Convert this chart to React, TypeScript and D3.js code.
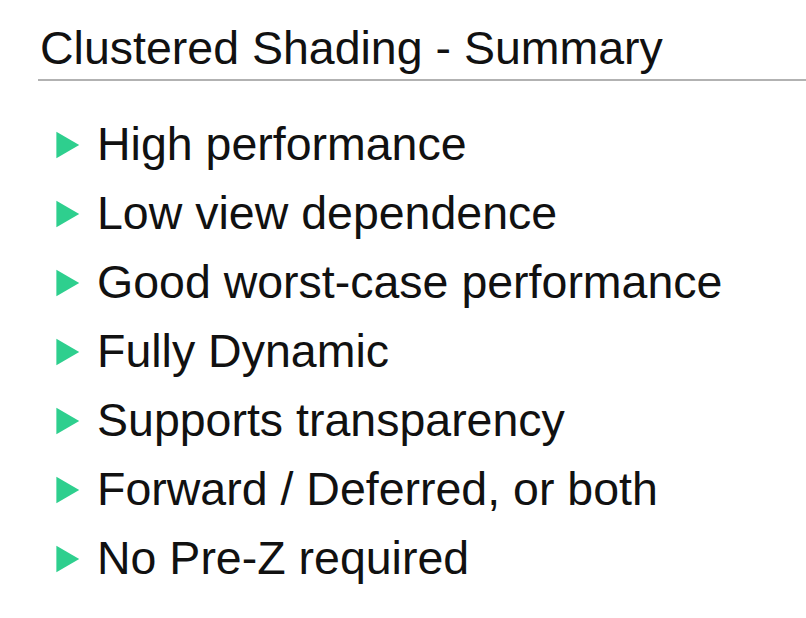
import React from 'react';
import * as d3 from 'd3';

const title = 'Clustered Shading - Summary';
const bullets = [
  'High performance',
  'Low view dependence',
  'Good worst-case performance',
  'Fully Dynamic',
  'Supports transparency',
  'Forward / Deferred, or both',
  'No Pre-Z required',
];

const W = 806;
const H = 618;

export default function App() {
  const y = d3.scalePoint<number>().domain(d3.range(bullets.length)).range([160, 574]);
  const tri = d3.symbol().type(d3.symbolTriangle).size(300);
  return (
    <svg width={W} height={H} style={{ position: 'absolute', left: 0, top: 0, background: '#fff' }}
      fontFamily="'Liberation Sans', Arial, sans-serif">
      <text x={40} y={64} fontSize={46.5} fill="#111">{title}</text>
      <line x1={38} x2={W} y1={80} y2={80} stroke="#999" strokeWidth={1.5} />
      {bullets.map((b, i) => (
        <g key={b}>
          <path d={tri()!} transform={`translate(64,${y(i)! - 15}) rotate(90)`} fill="#2ecf8e" />
          <text x={97} y={y(i)} fontSize={46.5} fill="#111">{b}</text>
        </g>
      ))}
    </svg>
  );
}
